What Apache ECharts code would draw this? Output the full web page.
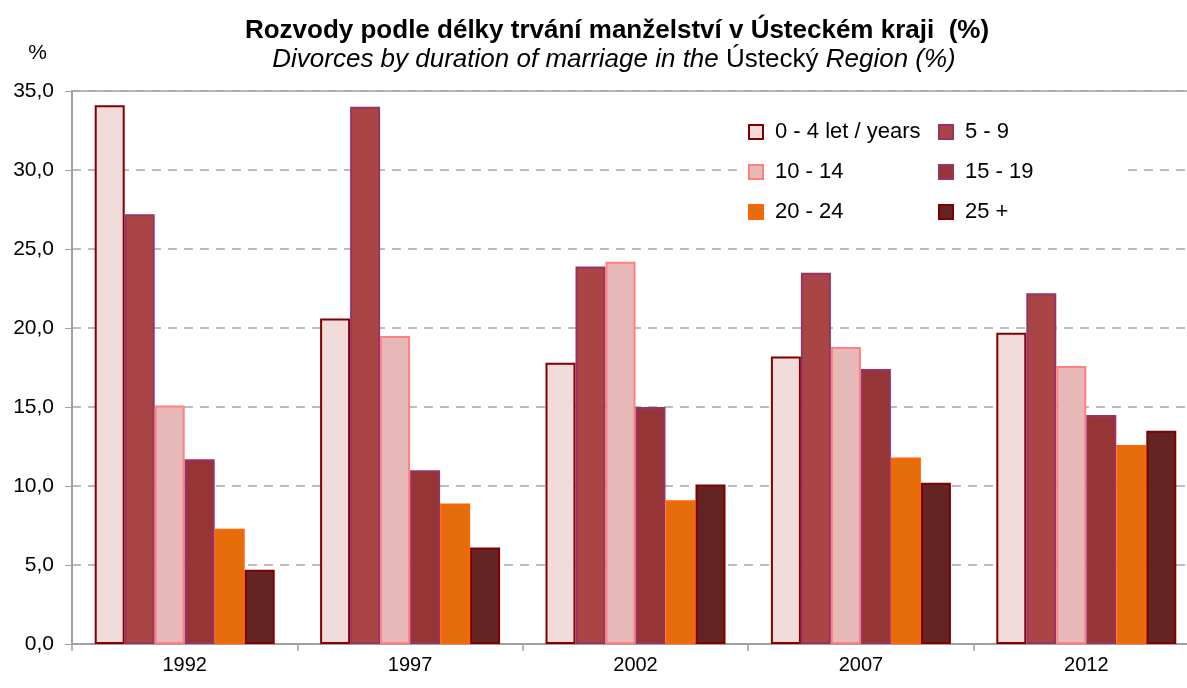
<!DOCTYPE html>
<html>
<head>
<meta charset="utf-8">
<script src="https://cdn.jsdelivr.net/npm/echarts@6/dist/echarts.min.js"></script>
<style>html,body{margin:0;padding:0;background:#fff}#c{width:1187px;height:688px}</style>
</head>
<body>
<div id="c"></div>
<script>
const categories = ['1992', '1997', '2002', '2007', '2012'];
const seriesNames = ['0 - 4 let / years', '5 - 9', '10 - 14', '15 - 19', '20 - 24', '25 +'];
const s0_4   = [34.1, 20.6, 17.8, 18.2, 19.7];
const s5_9   = [27.2, 34.0, 23.9, 23.5, 22.2];
const s10_14 = [15.1, 19.5, 24.2, 18.8, 17.6];
const s15_19 = [11.7, 11.0, 15.0, 17.4, 14.5];
const s20_24 = [7.3, 8.9, 9.1, 11.8, 12.6];
const s25p   = [4.7, 6.1, 10.1, 10.2, 13.5];
const yTicks = [0, 5, 10, 15, 20, 25, 30, 35];

const values = [s0_4, s5_9, s10_14, s15_19, s20_24, s25p];
const fills = ['#f0dada', '#a94545', '#e6b8b8', '#953535', '#e46c0a', '#632423'];
const borders = ['#800000', '#993366', '#ff8080', '#993366', '#ff6600', '#800000'];

const FONT = 'Liberation Sans, Arial, sans-serif';
const chart = echarts.init(document.getElementById('c'));

const series = values.map((v, i) => ({
  name: seriesNames[i],
  type: 'bar',
  data: v,
  barWidth: 30,
  barGap: '0%',
  itemStyle: { color: fills[i], borderColor: borders[i], borderWidth: 2 }
}));

const legendCommon = {
  orient: 'vertical',
  top: 121,
  icon: 'rect',
  itemWidth: 14,
  itemHeight: 14,
  itemGap: 18,
  textStyle: { fontFamily: FONT, fontSize: 22, color: '#000', lineHeight: 22, padding: [0, 0, 0, 7] },
  selectedMode: false,
  padding: 0
};

chart.setOption({
  backgroundColor: '#fff',
  animation: false,
  title: [{
    text: 'Rozvody podle délky trvání manželství v Ústeckém kraji  (%)',
    left: 612, top: 13, textAlign: 'center',
    textStyle: { fontFamily: FONT, fontSize: 26, fontWeight: 'bold', color: '#000' }
  }, {
    text: '{i|Divorces by duration of marriage in the} {n|Ústecký} {i|Region (%)}',
    left: 609, top: 42, textAlign: 'center',
    textStyle: {
      fontFamily: FONT, fontSize: 26, fontWeight: 'normal', color: '#000',
      rich: {
        i: { fontFamily: FONT, fontSize: 26, fontStyle: 'italic', fontWeight: 'normal', color: '#000' },
        n: { fontFamily: FONT, fontSize: 26, fontWeight: 'normal', color: '#000' }
      }
    }
  }],
  graphic: [{
    type: 'rect', z: 1,
    shape: { x: 740, y: 115, width: 382, height: 110 },
    style: { fill: '#fff' }
  }],
  legend: [
    Object.assign({}, legendCommon, { left: 748, data: [seriesNames[0], seriesNames[2], seriesNames[4]] }),
    Object.assign({}, legendCommon, { left: 938, data: [seriesNames[1], seriesNames[3], seriesNames[5]] })
  ],
  grid: {
    left: 72, width: 1127, top: 91, bottom: 44,
    outerBoundsMode: 'none',
    show: true, borderColor: '#a0a0a0', borderWidth: 1.5, backgroundColor: 'transparent'
  },
  xAxis: {
    type: 'category',
    data: categories,
    axisLine: { lineStyle: { color: '#a0a0a0', width: 2 } },
    axisTick: { show: true, length: 7, lineStyle: { color: '#a0a0a0', width: 1.5 } },
    axisLabel: { fontFamily: FONT, fontSize: 20, color: '#000', margin: 11 }
  },
  yAxis: {
    type: 'value',
    min: yTicks[0], max: yTicks[yTicks.length - 1], interval: 5,
    name: '%',
    nameLocation: 'end',
    nameGap: 27,
    nameTextStyle: { fontFamily: FONT, fontSize: 21, color: '#000', align: 'right', padding: [0, 25, 0, 0] },
    axisLine: { show: true, lineStyle: { color: '#a0a0a0', width: 2 } },
    axisTick: { show: true, length: 7, lineStyle: { color: '#a0a0a0', width: 1 } },
    axisLabel: {
      fontFamily: FONT, fontSize: 21, color: '#000', margin: 18,
      formatter: v => v.toFixed(1).replace('.', ',')
    },
    splitLine: { show: true, lineStyle: { color: '#a6a6a6', type: [9, 7], width: 1.5 } }
  },
  series: series
});
</script>
</body>
</html>
